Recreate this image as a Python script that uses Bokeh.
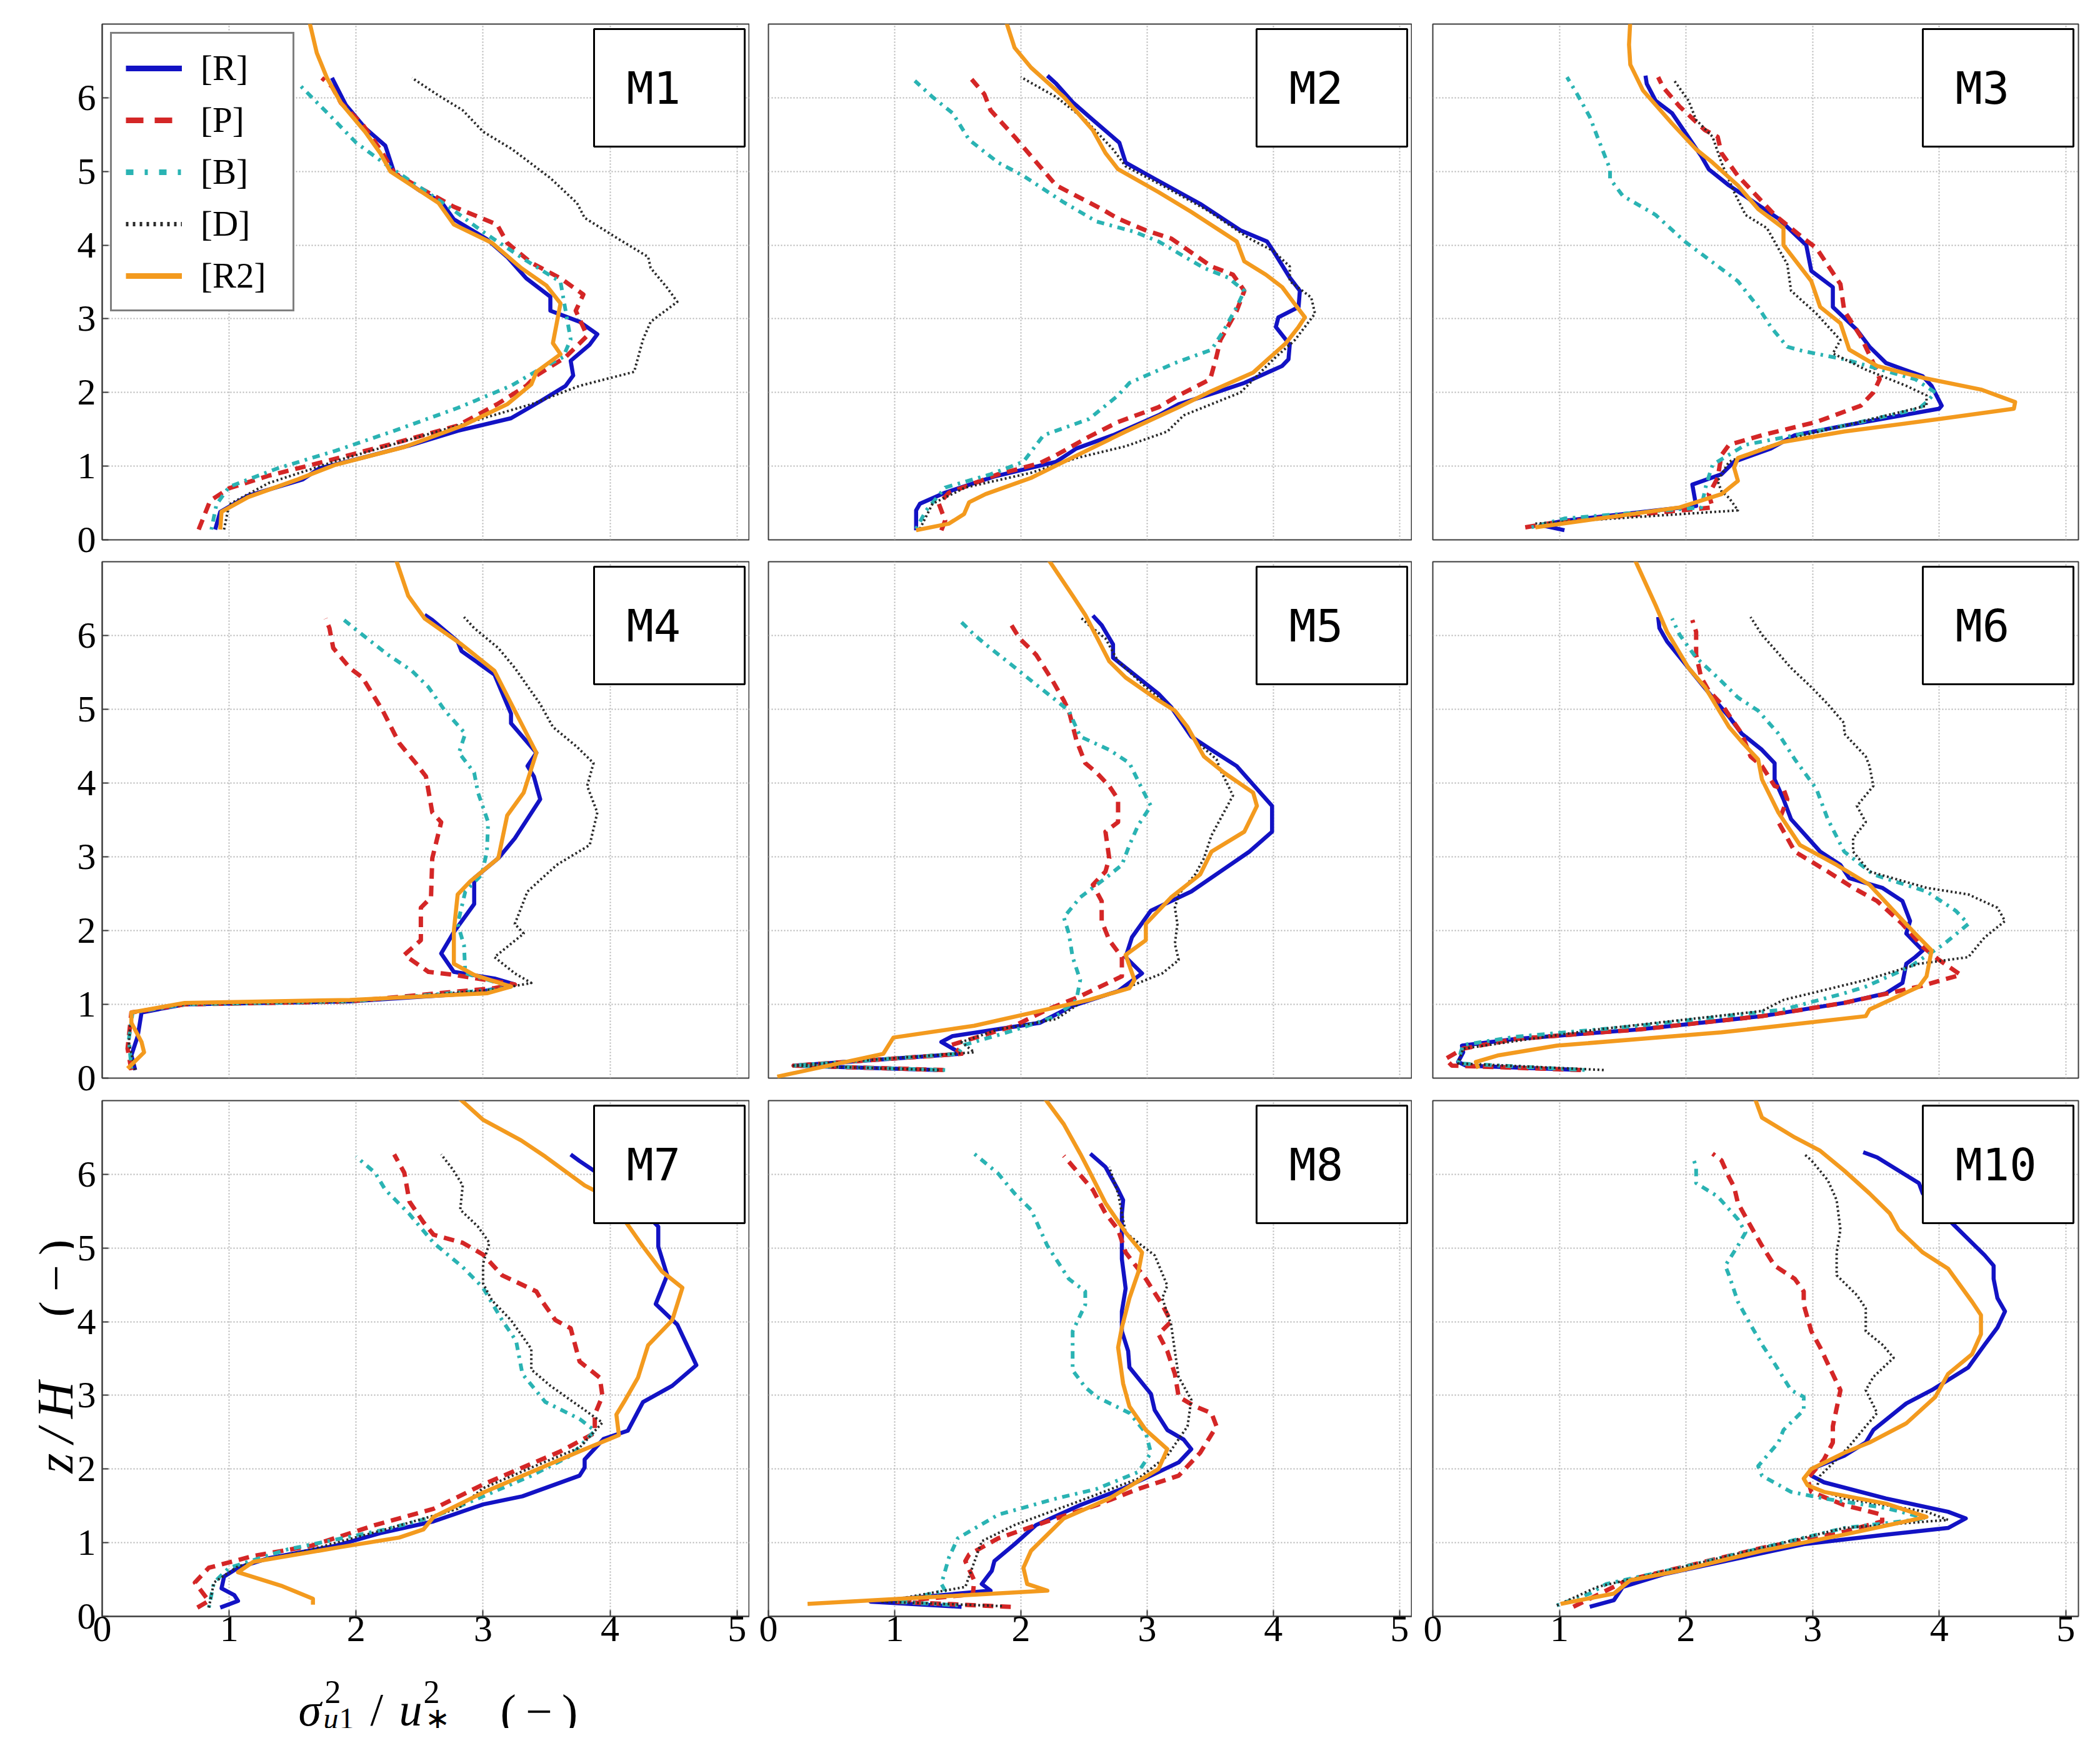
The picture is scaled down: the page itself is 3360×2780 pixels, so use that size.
from bokeh.plotting import figure
from bokeh.layouts import column, row
from bokeh.models import Legend, LegendItem, FixedTicker, Range1d
from bokeh.embed import file_html
from bokeh.resources import INLINE
from bokeh.core.properties import value
import math

PANELS = ["M1", "M2", "M3", "M4", "M5", "M6", "M7", "M8", "M10"]
SERIES_KEYS = ["R", "P", "B", "D", "R2"]
SERIES_LABELS = ["[R]", "[P]", "[B]", "[D]", "[R2]"]
X_TICKS = [0, 1, 2, 3, 4, 5]
Z_TICKS = [0, 1, 2, 3, 4, 5, 6]

# ---------------- M1 ----------------
M1_R_X = [0.89,0.93,1.15,1.58,1.71,2.04,2.42,2.80,3.22,3.46,3.65,3.71,3.69,3.84,3.90,3.76,3.53,3.53,3.34,3.19,3.03,2.77,2.67,2.50,2.30,2.23,2.07,1.92,1.81]
M1_R_Z = [0.14,0.38,0.60,0.82,0.97,1.11,1.28,1.48,1.65,1.89,2.09,2.23,2.43,2.65,2.79,2.96,3.11,3.30,3.55,3.84,4.08,4.35,4.59,4.74,4.98,5.35,5.59,5.90,6.27]
M1_P_X = [0.76,0.85,1.00,1.31,1.77,2.30,2.80,3.11,3.34,3.42,3.65,3.82,3.73,3.79,3.61,3.38,3.19,3.11,2.77,2.54,2.30,2.19,2.05,1.88,1.81,1.73]
M1_P_Z = [0.14,0.53,0.70,0.87,1.07,1.31,1.55,1.84,2.09,2.23,2.48,2.77,3.11,3.33,3.55,3.76,4.03,4.28,4.52,4.74,4.98,5.30,5.64,5.93,6.15,6.27]
M1_B_X = [0.86,0.90,1.00,1.38,1.84,2.30,2.80,3.22,3.46,3.63,3.69,3.65,3.61,3.34,3.00,2.73,2.23,2.00,1.81,1.54]
M1_B_Z = [0.14,0.48,0.72,0.97,1.21,1.48,1.79,2.09,2.33,2.48,2.72,3.11,3.50,3.79,4.18,4.52,5.10,5.39,5.73,6.20]
M1_D_X = [0.96,1.00,1.31,1.84,2.42,3.00,3.38,3.76,4.19,4.26,4.32,4.53,4.45,4.32,4.30,4.07,3.80,3.74,3.53,3.23,3.00,2.84,2.65,2.44]
M1_D_Z = [0.14,0.48,0.77,1.07,1.36,1.65,1.84,2.09,2.28,2.72,2.96,3.23,3.42,3.69,3.84,4.08,4.37,4.57,4.91,5.30,5.54,5.83,6.03,6.27]
M1_R2_X = [0.93,0.94,1.15,1.54,1.84,2.38,2.84,3.19,3.38,3.42,3.61,3.55,3.61,3.50,3.30,3.07,2.77,2.65,2.50,2.27,2.19,2.07,1.88,1.77,1.69,1.63]
M1_R2_Z = [0.14,0.38,0.58,0.82,1.02,1.26,1.55,1.84,2.11,2.28,2.52,2.67,3.21,3.45,3.69,4.03,4.28,4.57,4.74,5.00,5.25,5.54,5.93,6.27,6.61,7.05]

# ---------------- M2 ----------------
M2_R_X = [1.17,1.17,1.20,1.40,1.79,2.28,2.44,2.73,3.09,3.25,3.58,3.77,4.07,4.12,4.13,4.02,4.04,4.20,4.21,4.13,4.00,3.95,3.74,3.42,3.06,2.83,2.78,2.57,2.41,2.28,2.21]
M2_R_Z = [0.13,0.40,0.49,0.64,0.86,1.06,1.24,1.42,1.69,1.84,2.02,2.13,2.36,2.45,2.65,2.89,3.02,3.16,3.38,3.56,3.92,4.05,4.20,4.56,4.90,5.12,5.39,5.70,5.94,6.19,6.30]
M2_P_X = [1.37,1.40,1.35,1.43,1.82,2.15,2.28,2.54,2.77,3.09,3.25,3.50,3.55,3.58,3.71,3.77,3.68,3.51,3.19,2.99,2.77,2.64,2.28,2.15,1.95,1.76,1.71,1.61]
M2_P_Z = [0.13,0.26,0.49,0.64,0.89,1.04,1.15,1.40,1.60,1.80,1.96,2.18,2.49,2.71,3.11,3.38,3.60,3.71,4.09,4.20,4.36,4.49,4.81,5.07,5.47,5.83,6.05,6.25]
M2_B_X = [1.17,1.25,1.40,1.76,2.02,2.18,2.54,2.77,2.86,3.22,3.51,3.61,3.71,3.77,3.64,3.45,3.09,2.90,2.60,2.34,2.02,1.82,1.59,1.46,1.30,1.16]
M2_B_Z = [0.15,0.40,0.71,0.89,1.06,1.42,1.64,1.96,2.13,2.40,2.58,2.85,3.16,3.38,3.56,3.69,4.05,4.18,4.32,4.58,4.94,5.12,5.43,5.79,6.01,6.23]
M2_D_X = [1.20,1.30,1.56,2.08,2.44,2.83,3.16,3.29,3.74,4.00,4.17,4.33,4.30,4.13,4.13,4.00,3.81,3.48,3.12,2.83,2.73,2.51,2.28,2.00]
M2_D_Z = [0.15,0.49,0.71,0.91,1.11,1.27,1.47,1.69,2.00,2.45,2.71,3.07,3.29,3.51,3.71,3.92,4.09,4.47,4.81,5.07,5.30,5.70,6.01,6.28]
M2_R2_X = [1.17,1.43,1.55,1.59,1.72,2.08,2.34,2.83,3.25,3.51,3.84,4.10,4.20,4.25,4.17,4.07,3.94,3.77,3.71,3.35,3.09,2.77,2.67,2.57,2.34,2.08,1.95,1.88]
M2_R2_Z = [0.13,0.22,0.35,0.51,0.62,0.84,1.06,1.47,1.80,2.02,2.27,2.67,2.89,3.02,3.20,3.43,3.60,3.78,4.05,4.45,4.72,5.03,5.25,5.56,6.01,6.41,6.68,7.05]

# ---------------- M3 ----------------
M3_R_X = [1.04,0.85,1.04,2.08,2.05,2.28,2.38,2.67,2.86,3.25,4.00,4.02,3.94,3.87,3.58,3.45,3.35,3.16,3.16,2.99,2.95,2.73,2.54,2.34,2.18,2.12,1.89,1.76,1.69,1.68]
M3_R_Z = [0.13,0.20,0.26,0.46,0.75,0.89,1.06,1.24,1.42,1.55,1.78,1.82,2.09,2.22,2.40,2.62,2.85,3.16,3.43,3.65,4.00,4.36,4.58,4.81,5.03,5.21,5.79,5.96,6.19,6.30]
M3_P_X = [0.73,0.98,2.21,2.18,2.25,2.28,2.34,2.60,3.03,3.38,3.48,3.53,3.48,3.38,3.25,3.22,3.03,2.93,2.70,2.41,2.28,2.25,2.15,1.95,1.82,1.78]
M3_P_Z = [0.17,0.24,0.44,0.62,0.84,1.15,1.29,1.42,1.60,1.82,2.00,2.18,2.40,2.76,3.11,3.47,3.96,4.09,4.41,4.94,5.25,5.47,5.56,5.88,6.14,6.28]
M3_B_X = [0.78,1.04,2.12,2.16,2.21,2.47,3.25,3.84,3.90,3.97,3.81,3.25,2.93,2.80,2.67,2.57,2.41,2.34,1.99,1.76,1.50,1.40,1.40,1.30,1.24,1.14,1.06]
M3_B_Z = [0.17,0.29,0.44,0.75,1.02,1.29,1.55,1.78,1.87,2.00,2.18,2.45,2.56,2.62,2.89,3.16,3.51,3.60,4.05,4.41,4.67,4.90,5.03,5.47,5.74,6.05,6.28]
M3_D_X = [0.81,2.41,2.34,2.28,2.25,2.34,2.60,2.93,3.25,3.90,3.90,3.74,3.42,3.16,3.22,3.03,2.83,2.80,2.64,2.47,2.38,2.28,2.21,2.08,2.02,1.90]
M3_D_Z = [0.22,0.40,0.57,0.66,0.80,1.06,1.24,1.42,1.55,1.82,1.96,2.09,2.31,2.53,2.71,3.07,3.38,3.74,4.23,4.41,4.72,5.12,5.47,5.70,5.96,6.25]
M3_R2_X = [0.81,1.95,2.28,2.41,2.38,2.41,2.77,3.25,4.00,4.59,4.60,4.33,3.87,3.51,3.29,3.22,3.06,2.99,2.77,2.77,2.57,2.41,2.21,2.08,1.89,1.66,1.56,1.55,1.56]
M3_R2_Z = [0.17,0.44,0.62,0.80,0.98,1.11,1.33,1.47,1.64,1.78,1.87,2.04,2.20,2.36,2.58,2.94,3.16,3.51,4.00,4.23,4.49,4.81,5.12,5.30,5.65,6.10,6.45,6.72,7.05]

# ---------------- M4 ----------------
M4_R_X = [0.26,0.23,0.28,0.31,0.65,1.95,2.93,3.25,3.09,2.77,2.67,2.77,2.93,2.93,3.12,3.25,3.45,3.40,3.35,3.42,3.22,3.22,3.09,2.83,2.80,2.60,2.54]
M4_R_Z = [0.11,0.31,0.57,0.89,1.00,1.04,1.15,1.27,1.35,1.44,1.69,1.98,2.36,2.71,2.98,3.25,3.78,4.09,4.23,4.41,4.81,4.94,5.47,5.79,5.92,6.21,6.28]
M4_P_X = [0.23,0.20,0.23,0.65,1.95,3.09,3.25,2.77,2.57,2.38,2.51,2.51,2.59,2.60,2.67,2.60,2.55,2.47,2.34,2.21,2.05,1.95,1.82,1.79,1.76]
M4_P_Z = [0.11,0.40,0.89,1.00,1.04,1.22,1.27,1.40,1.44,1.67,1.87,2.31,2.45,2.98,3.47,3.60,4.09,4.27,4.54,4.98,5.43,5.56,5.83,6.10,6.23]
M4_B_X = [0.23,0.21,0.24,0.65,1.95,3.09,3.22,2.86,2.85,2.80,2.86,2.99,3.03,3.04,2.96,2.93,2.81,2.86,2.70,2.57,2.44,2.25,2.02,1.89]
M4_B_Z = [0.13,0.53,0.89,1.00,1.04,1.20,1.24,1.42,1.80,2.09,2.53,2.76,3.07,3.47,3.87,4.14,4.41,4.67,4.98,5.30,5.52,5.74,6.05,6.23]
M4_D_X = [0.26,0.21,0.23,0.65,1.95,3.09,3.38,3.25,3.09,3.32,3.25,3.35,3.58,3.84,3.90,3.82,3.87,3.74,3.55,3.45,3.25,3.12,2.93,2.85]
M4_D_Z = [0.11,0.48,0.89,1.00,1.04,1.20,1.29,1.42,1.64,1.96,2.09,2.53,2.89,3.16,3.60,3.96,4.27,4.49,4.76,5.07,5.56,5.83,6.10,6.25]
M4_R2_X = [0.20,0.33,0.31,0.23,0.23,0.65,1.95,3.03,3.22,2.93,2.77,2.77,2.80,2.90,3.12,3.19,3.32,3.42,3.25,3.09,2.83,2.54,2.41,2.31]
M4_R2_Z = [0.13,0.35,0.49,0.75,0.89,1.02,1.06,1.15,1.24,1.40,1.55,2.00,2.49,2.67,2.98,3.56,3.87,4.41,4.98,5.52,5.88,6.23,6.54,7.05]

# ---------------- M5 ----------------
M5_R_X = [1.34,0.20,1.53,1.37,1.46,2.15,2.41,2.77,2.96,2.83,2.88,3.03,3.35,3.58,3.81,3.99,3.99,3.87,3.71,3.51,3.35,3.19,3.09,2.73,2.73,2.64,2.57]
M5_R_Z = [0.11,0.17,0.33,0.49,0.57,0.75,0.98,1.18,1.42,1.64,1.91,2.27,2.53,2.80,3.07,3.34,3.69,3.92,4.23,4.45,4.63,5.03,5.21,5.70,5.88,6.14,6.27]
M5_P_X = [1.39,0.20,1.53,1.45,1.95,2.21,2.47,2.80,2.80,2.70,2.64,2.64,2.57,2.67,2.70,2.67,2.77,2.77,2.70,2.60,2.51,2.44,2.38,2.34,2.25,2.12,1.99,1.90]
M5_P_Z = [0.11,0.17,0.33,0.45,0.71,0.93,1.11,1.38,1.64,1.87,2.13,2.40,2.62,2.80,2.98,3.34,3.47,3.78,3.96,4.14,4.27,4.58,4.98,5.12,5.39,5.74,5.96,6.21]
M5_B_X = [1.40,0.20,1.50,1.55,1.95,2.28,2.44,2.47,2.41,2.38,2.34,2.47,2.67,2.80,2.86,2.93,3.03,2.96,2.86,2.70,2.47,2.38,2.25,2.08,1.92,1.72,1.63,1.50]
M5_B_Z = [0.11,0.17,0.33,0.45,0.65,0.84,1.06,1.33,1.64,1.96,2.18,2.45,2.71,2.89,3.16,3.43,3.69,3.92,4.27,4.45,4.63,4.98,5.16,5.39,5.61,5.88,6.01,6.23]
M5_D_X = [1.35,0.20,1.63,1.53,1.82,2.28,2.47,2.80,3.12,3.25,3.22,3.24,3.22,3.25,3.38,3.45,3.51,3.68,3.58,3.55,3.38,3.22,2.99,2.77,2.67,2.54,2.47]
M5_D_Z = [0.11,0.17,0.35,0.49,0.66,0.80,1.02,1.20,1.42,1.60,1.82,2.09,2.31,2.49,2.76,2.98,3.29,3.83,4.18,4.32,4.58,4.98,5.30,5.65,5.96,6.14,6.25]
M5_R2_X = [0.07,0.91,0.99,1.63,2.15,2.54,2.86,2.90,2.83,2.99,2.99,3.19,3.42,3.51,3.77,3.87,3.84,3.61,3.45,3.32,3.22,3.09,2.83,2.70,2.51,2.41,2.21]
M5_R2_Z = [0.02,0.33,0.55,0.71,0.91,1.06,1.22,1.33,1.67,1.87,2.09,2.45,2.76,3.07,3.34,3.69,3.87,4.14,4.36,4.76,4.98,5.12,5.43,5.65,6.28,6.54,7.05]

# ---------------- M6 ----------------
M6_R_X = [1.17,0.26,0.20,0.24,0.23,0.65,1.63,2.60,3.25,3.58,3.71,3.74,3.81,3.87,3.74,3.77,3.71,3.55,3.29,3.22,3.06,2.83,2.77,2.70,2.70,2.60,2.44,2.34,2.21,2.02,1.85,1.79,1.78]
M6_R_Z = [0.11,0.17,0.22,0.35,0.44,0.53,0.66,0.84,1.02,1.15,1.29,1.55,1.64,1.73,1.96,2.13,2.40,2.58,2.71,2.89,3.07,3.51,3.78,4.05,4.27,4.45,4.67,4.90,5.16,5.56,5.92,6.10,6.25]
M6_P_X = [1.17,0.15,0.10,0.24,0.65,1.63,2.60,3.25,3.84,4.17,4.00,3.87,3.71,3.51,3.32,3.12,2.86,2.73,2.80,2.77,2.70,2.60,2.51,2.44,2.28,2.18,2.12,2.08,2.08,2.05]
M6_P_Z = [0.11,0.17,0.26,0.40,0.53,0.66,0.84,1.02,1.24,1.40,1.60,1.78,2.09,2.40,2.58,2.80,3.07,3.47,3.78,3.92,3.96,4.23,4.36,4.67,5.07,5.25,5.43,5.74,6.05,6.21]
M6_B_X = [1.20,0.20,0.22,0.24,0.65,1.63,2.77,3.25,3.42,3.77,4.04,4.23,4.13,3.90,3.48,3.25,3.12,3.03,2.86,2.73,2.57,2.41,2.25,2.08,1.95,1.89]
M6_B_Z = [0.11,0.20,0.35,0.45,0.56,0.71,0.93,1.15,1.24,1.51,1.82,2.09,2.27,2.53,2.76,3.07,3.51,3.92,4.32,4.67,4.98,5.16,5.43,5.70,6.01,6.23]
M6_D_X = [1.35,0.20,0.24,1.30,2.60,2.77,3.42,3.84,4.23,4.36,4.52,4.46,4.23,3.90,3.45,3.32,3.32,3.42,3.35,3.48,3.45,3.42,3.25,3.25,3.12,2.99,2.83,2.60,2.51]
M6_D_Z = [0.11,0.20,0.40,0.66,0.91,1.06,1.33,1.55,1.64,1.91,2.13,2.31,2.49,2.58,2.80,3.07,3.25,3.47,3.69,3.96,4.23,4.36,4.67,4.81,5.07,5.30,5.56,6.01,6.25]
M6_R2_X = [0.36,0.34,0.52,0.98,2.28,3.42,3.45,3.84,3.90,3.94,3.81,3.64,3.45,3.19,2.90,2.73,2.60,2.57,2.44,2.34,2.15,2.02,1.85,1.76,1.59]
M6_R2_Z = [0.13,0.22,0.31,0.44,0.62,0.84,0.93,1.24,1.38,1.73,1.96,2.27,2.62,2.89,3.16,3.60,4.05,4.32,4.56,4.76,5.30,5.56,6.05,6.41,7.05]

# ---------------- M7 ----------------
M7_R_X = [0.93,1.07,1.04,0.94,0.96,1.07,1.31,1.84,2.19,2.61,3.00,3.31,3.76,3.80,3.80,3.95,4.14,4.26,4.49,4.68,4.62,4.53,4.36,4.45,4.38,4.38,4.22,3.95,3.76,3.69]
M7_R_Z = [0.12,0.21,0.29,0.38,0.54,0.66,0.79,0.96,1.13,1.29,1.52,1.63,1.91,2.02,2.13,2.41,2.52,2.91,3.13,3.41,3.63,3.96,4.24,4.63,5.02,5.29,5.57,5.96,6.18,6.27]
M7_P_X = [0.75,0.84,0.73,0.84,1.19,1.65,2.15,2.61,3.00,3.31,3.61,3.88,3.88,3.94,3.92,3.76,3.69,3.57,3.46,3.42,3.15,3.00,2.84,2.61,2.53,2.42,2.38,2.30]
M7_P_Z = [0.12,0.21,0.46,0.66,0.82,0.96,1.24,1.46,1.79,2.02,2.24,2.49,2.74,2.99,3.24,3.46,3.91,4.02,4.29,4.41,4.63,4.91,5.07,5.18,5.35,5.63,6.02,6.27]
M7_B_X = [0.84,0.88,1.00,1.46,2.23,2.61,2.92,3.38,3.69,3.88,3.76,3.49,3.31,3.26,3.15,3.00,2.84,2.61,2.42,2.23,2.15,2.00]
M7_B_Z = [0.12,0.46,0.66,0.91,1.18,1.35,1.57,1.91,2.18,2.52,2.68,2.91,3.29,3.74,4.02,4.46,4.74,5.07,5.46,5.79,6.02,6.24]
M7_D_X = [0.84,0.88,1.07,1.65,2.23,2.80,3.00,3.38,3.76,3.94,3.76,3.53,3.38,3.38,3.22,3.07,3.00,3.00,3.05,2.96,2.82,2.84,2.76,2.67]
M7_D_Z = [0.12,0.46,0.68,0.91,1.18,1.46,1.74,2.02,2.29,2.63,2.85,3.13,3.35,3.63,4.02,4.29,4.52,4.79,5.07,5.29,5.52,5.85,6.07,6.27]
M7_R2_X = [1.66,1.66,1.42,1.07,1.19,1.84,2.34,2.53,2.61,3.00,3.38,3.76,4.07,4.05,4.11,4.22,4.30,4.49,4.57,4.41,4.26,4.15,3.99,3.80,3.49,3.30,3.00,2.80]
M7_R2_Z = [0.16,0.24,0.41,0.60,0.74,0.93,1.07,1.18,1.35,1.68,1.96,2.24,2.46,2.74,2.91,3.24,3.68,4.02,4.46,4.68,5.02,5.29,5.68,5.85,6.24,6.46,6.74,7.05]

# ---------------- M8 ----------------
M8_R_X = [1.53,0.81,1.76,1.69,1.77,1.79,1.95,2.12,2.47,2.80,3.03,3.25,3.35,3.29,3.16,3.06,3.03,2.86,2.85,2.80,2.80,2.83,2.80,2.80,2.80,2.81,2.77,2.67,2.55]
M8_R_Z = [0.13,0.20,0.35,0.44,0.62,0.75,0.98,1.24,1.51,1.73,1.91,2.09,2.27,2.40,2.53,2.80,3.02,3.38,3.60,3.87,4.14,4.45,4.85,5.12,5.47,5.65,5.79,6.10,6.28]
M8_P_X = [1.92,1.00,1.62,1.63,1.56,1.59,1.82,2.21,2.60,2.93,3.25,3.42,3.55,3.51,3.38,3.25,3.22,3.16,3.09,3.19,3.12,2.99,2.83,2.77,2.67,2.57,2.44,2.34]
M8_P_Z = [0.13,0.20,0.30,0.49,0.75,0.84,1.06,1.29,1.51,1.73,1.91,2.22,2.58,2.76,2.85,2.98,3.29,3.60,3.83,4.00,4.23,4.58,4.94,5.25,5.47,5.79,6.05,6.25]
M8_B_X = [1.50,1.00,1.40,1.37,1.43,1.50,1.82,2.28,2.60,2.93,3.03,2.99,2.86,2.60,2.51,2.41,2.41,2.51,2.51,2.38,2.21,2.08,1.95,1.82,1.63]
M8_B_Z = [0.15,0.20,0.35,0.44,0.80,1.06,1.38,1.60,1.73,1.96,2.22,2.49,2.76,2.98,3.11,3.34,3.87,4.23,4.41,4.58,5.03,5.52,5.74,6.01,6.28]
M8_D_X = [1.85,0.90,1.56,1.69,1.95,2.44,2.93,3.16,3.32,3.35,3.25,3.22,3.19,3.12,3.16,3.06,2.96,2.83,2.77,2.70]
M8_D_Z = [0.14,0.20,0.40,1.02,1.24,1.55,1.87,2.18,2.58,2.94,3.25,3.60,3.96,4.32,4.49,4.90,5.03,5.21,5.74,6.10]
M8_R2_X = [0.31,2.21,2.05,2.02,2.08,2.34,2.70,3.09,3.16,2.99,2.86,2.81,2.77,2.80,2.86,2.93,2.96,2.83,2.67,2.54,2.47,2.34,2.18]
M8_R2_Z = [0.17,0.35,0.44,0.66,0.89,1.33,1.60,2.00,2.27,2.53,2.85,3.16,3.65,3.92,4.32,4.67,4.94,5.21,5.61,6.05,6.28,6.68,7.05]

# ---------------- M10 ----------------
M10_R_X = [1.24,1.43,1.50,1.82,2.93,3.58,4.07,4.21,4.07,3.58,3.09,2.99,2.99,3.25,3.42,3.48,3.74,3.94,4.23,4.36,4.46,4.52,4.46,4.43,4.43,4.36,4.10,3.87,3.84,3.68,3.51,3.40]
M10_R_Z = [0.13,0.22,0.40,0.57,0.98,1.11,1.20,1.33,1.42,1.60,1.82,1.91,2.00,2.18,2.36,2.53,2.89,3.07,3.38,3.69,3.92,4.14,4.32,4.58,4.76,4.90,5.34,5.74,5.88,6.05,6.23,6.30]
M10_P_X = [1.11,1.37,1.53,1.95,2.60,3.25,3.55,3.55,3.25,2.99,2.96,3.09,3.16,3.16,3.22,3.12,3.06,2.99,2.93,2.93,2.86,2.70,2.60,2.51,2.41,2.38,2.34,2.28,2.21]
M10_P_Z = [0.13,0.35,0.49,0.66,0.93,1.15,1.29,1.38,1.51,1.69,1.87,2.13,2.36,2.58,3.07,3.43,3.65,3.87,4.23,4.41,4.58,4.76,5.03,5.30,5.61,5.83,5.96,6.19,6.28]
M10_B_X = [0.98,1.24,1.37,1.95,2.60,3.25,3.90,3.58,3.09,2.83,2.60,2.57,2.73,2.77,2.93,2.93,2.83,2.70,2.60,2.51,2.41,2.34,2.31,2.41,2.47,2.41,2.25,2.08,2.08,2.05]
M10_B_Z = [0.15,0.31,0.44,0.66,0.93,1.20,1.33,1.47,1.60,1.69,1.91,2.04,2.36,2.53,2.80,2.98,3.07,3.43,3.69,3.96,4.27,4.63,4.76,5.03,5.21,5.39,5.70,5.88,6.10,6.25]
M10_D_X = [0.98,1.30,1.95,2.60,3.25,4.07,3.90,3.25,3.03,3.06,3.19,3.29,3.42,3.51,3.42,3.48,3.64,3.55,3.42,3.42,3.35,3.19,3.19,3.22,3.19,3.12,2.99,2.93]
M10_D_Z = [0.15,0.40,0.66,0.93,1.20,1.31,1.42,1.60,1.73,1.91,2.13,2.31,2.58,2.76,3.07,3.25,3.51,3.69,3.87,4.18,4.36,4.63,4.94,5.25,5.65,5.92,6.19,6.28]
M10_R2_X = [1.01,1.43,1.56,1.95,2.60,3.25,3.90,3.58,3.09,2.96,2.93,2.99,3.25,3.45,3.74,3.97,4.07,4.26,4.33,4.33,4.26,4.07,3.87,3.68,3.61,3.45,3.25,3.06,2.86,2.60,2.54]
M10_R2_Z = [0.17,0.31,0.49,0.62,0.89,1.11,1.35,1.53,1.69,1.78,1.87,2.00,2.22,2.36,2.62,2.98,3.29,3.56,3.83,4.09,4.27,4.72,4.94,5.25,5.47,5.74,6.05,6.32,6.50,6.77,7.05]

# ---------------- styles ----------------
STYLE = {
    "R":  dict(line_color="#1212c4", line_width=6.5),
    "P":  dict(line_color="#d42626", line_width=7, line_dash="17 11"),
    "B":  dict(line_color="#2ab3b3", line_width=6, line_dash="4 9 12 9"),
    "D":  dict(line_color="#2a2a2a", line_width=4, line_dash="3 4"),
    "R2": dict(line_color="#f39a1e", line_width=6.5),
}
LEGEND_STYLE = {
    "R":  dict(line_color="#1212c4", line_width=9),
    "P":  dict(line_color="#d42626", line_width=9, line_dash="28 18"),
    "B":  dict(line_color="#2ab3b3", line_width=9, line_dash="12 18 5 18"),
    "D":  dict(line_color="#2a2a2a", line_width=7, line_dash="4 7"),
    "R2": dict(line_color="#f39a1e", line_width=9),
}

SERIF = "Liberation Serif"
FW = [1036, 1030, 1033]
FH = [825, 826, 825]
BL = [163, 30, 33]
BR = [0, 0, 10]
BT = [38, 1, 1]
BB = [34, 35, 179]
YLAB_W = 118          # strip left of the bottom-left panel holding the z/H label
XLAB_H = 111          # strip under the bottom-left panel holding the x label

XMAX, ZMAX = 5.1, 7.0


def blank(width, height, xr, yr):
    f = figure(frame_width=width, frame_height=height, x_range=xr, y_range=yr,
               output_backend="svg", toolbar_location=None,
               min_border_left=0, min_border_right=0,
               min_border_top=0, min_border_bottom=0)
    f.axis.visible = False
    f.grid.visible = False
    f.outline_line_color = None
    f.background_fill_color = "white"
    f.border_fill_color = "white"
    return f


figs = []
for idx, name in enumerate(PANELS):
    r, c = divmod(idx, 3)
    bl = BL[c] - (YLAB_W if idx == 6 else 0)
    bb = BB[r] - (XLAB_H if idx == 6 else 0)
    p = figure(frame_width=FW[c], frame_height=FH[r],
               x_range=Range1d(0, XMAX), y_range=Range1d(0, ZMAX),
               output_backend="svg", toolbar_location=None,
               min_border_left=bl, min_border_right=BR[c],
               min_border_top=BT[r], min_border_bottom=bb)
    p.background_fill_color = "white"
    p.border_fill_color = "white"
    p.outline_line_color = "#3c3c3c"
    p.outline_line_width = 2

    for ax, ticks in ((p.xaxis, X_TICKS), (p.yaxis, Z_TICKS)):
        ax.ticker = FixedTicker(ticks=ticks)
        ax.major_label_text_font = SERIF
        ax.major_label_text_font_size = "60px"
        ax.major_label_text_color = "black"
        ax.major_tick_in = 10
        ax.major_tick_out = 0
        ax.minor_tick_in = 0
        ax.minor_tick_out = 0
        ax.axis_line_color = "#3c3c3c"
        ax.axis_line_width = 2
        ax.major_tick_line_color = "#3c3c3c"
        ax.major_tick_line_width = 2
    p.xaxis.major_label_standoff = 0
    p.yaxis.major_label_standoff = 10
    p.xgrid.ticker = FixedTicker(ticks=X_TICKS)
    p.ygrid.ticker = FixedTicker(ticks=Z_TICKS)
    for g in (p.xgrid, p.ygrid):
        g.grid_line_color = "#b4b4b4"
        g.grid_line_width = 2
        g.grid_line_dash = "2 3"
    if r != 2:
        p.xaxis.visible = False
    if c != 0:
        p.yaxis.visible = False

    for key in SERIES_KEYS:
        xs = globals()[f"{name}_{key}_X"]
        zs = globals()[f"{name}_{key}_Z"]
        p.line(xs, zs, line_join="round", **STYLE[key])

    # pixel -> data conversion for this frame
    sx = XMAX / FW[c]
    sy = ZMAX / FH[r]

    # panel label box (white, on top of curves)
    right = XMAX - 8 * sx
    left = right - 241 * sx
    top = ZMAX - 8 * sy
    bottom = top - 188 * sy
    p.quad(left=[left], right=[right], bottom=[bottom], top=[top],
           fill_color="white", line_color="black", line_width=3)
    p.text(x=[left + 52 * sx], y=[(top + bottom) / 2], text=[name],
           text_font=value("DejaVu Sans Mono"), text_font_size="72px",
           text_baseline="middle", text_align="left", text_color="black")

    if idx == 0:
        items = []
        for key, lab in zip(SERIES_KEYS, SERIES_LABELS):
            # off-range points: only the legend sample of these is visible
            dr = p.line(x=[-10, -9], y=[-10, -10], **LEGEND_STYLE[key])
            items.append(LegendItem(label=lab, renderers=[dr]))
        leg = Legend(items=items, location="top_left", margin=13,
                     padding=22, spacing=18, glyph_width=90, glyph_height=64,
                     label_height=64, label_width=125, label_standoff=30,
                     label_text_font=SERIF, label_text_font_size="57px",
                     label_text_color="black",
                     border_line_color="black", border_line_width=3,
                     background_fill_color="white", background_fill_alpha=1.0)
        p.add_layout(leg)

    figs.append(p)

# ----- axis-label strips (page-pixel coordinates used as data coordinates) -----
row3_top = 8 + (BT[0] + FH[0] + BB[0]) + (BT[1] + FH[1] + BB[1])
row3_bottom = row3_top + BT[2] + FH[2] + BB[2]
ylab = blank(YLAB_W, BT[2] + FH[2] + BB[2],
             Range1d(8, 8 + YLAB_W), Range1d(row3_bottom, row3_top))
ylab.text(x=[96], y=[2363], text=["z\u2009/\u2009H"], angle=math.pi / 2,
          text_font=value(SERIF), text_font_size="82px", text_font_style="italic",
          text_align="left", text_baseline="alphabetic", text_color="black")
ylab.text(x=[96], y=[2113], text=["(\u2009\u2212\u2009)"], angle=math.pi / 2,
          text_font=value(SERIF), text_font_size="76px",
          text_align="left", text_baseline="alphabetic", text_color="black")

x0 = 8 + YLAB_W
x1 = x0 + figs[6].min_border_left + FW[0]
xlab = blank(x1 - x0, XLAB_H, Range1d(x0, x1), Range1d(row3_bottom, row3_bottom - XLAB_H))


def xt(text, px, py, size, style="normal"):
    xlab.text(x=[px], y=[py], text=[text], text_font=value(SERIF),
              text_font_size=f"{size}px", text_font_style=style,
              text_align="left", text_baseline="alphabetic", text_color="black")


xt("σ", 440, 2742, 74, "italic")
xt("2", 482, 2714, 52)
xt("u", 480, 2756, 48, "italic")
xt("1", 505, 2756, 48)
xt("/", 555, 2742, 74)
xt("u", 601, 2742, 74, "italic")
xt("2", 640, 2714, 52)
xt("\u2217", 642, 2756, 48)
xt("(\u2009\u2212\u2009)", 763, 2744, 76)

layout = column(row(*figs[0:3]), row(*figs[3:6]),
                row(ylab, column(figs[6], xlab), figs[7], figs[8]))
open("out.html", "w").write(file_html(layout, INLINE))
